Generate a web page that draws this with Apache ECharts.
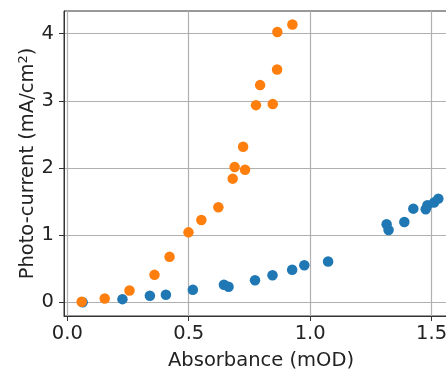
<!DOCTYPE html>
<html>
<head>
<meta charset="utf-8">
<script src="https://cdn.jsdelivr.net/npm/echarts@6/dist/echarts.min.js"></script>
<style>html,body{margin:0;padding:0;background:#fff}#c{width:446px;height:370px}</style>
</head>
<body>
<div id="c"></div>
<script>
const xTicks = [0.0, 0.5, 1.0, 1.5];
const yTicks = [0, 1, 2, 3, 4];
const blueX = [0.063, 0.227, 0.340, 0.406, 0.517, 0.645, 0.664, 0.773, 0.845, 0.926, 0.976, 1.074, 1.315, 1.323, 1.388, 1.425, 1.476, 1.483, 1.510, 1.528];
const blueY = [0.00, 0.045, 0.095, 0.11, 0.184, 0.259, 0.229, 0.327, 0.401, 0.482, 0.55, 0.605, 1.16, 1.076, 1.195, 1.393, 1.383, 1.443, 1.483, 1.542];
const orangeX = [0.059, 0.154, 0.256, 0.359, 0.421, 0.499, 0.552, 0.622, 0.681, 0.689, 0.732, 0.724, 0.777, 0.794, 0.846, 0.864, 0.865, 0.927];
const orangeY = [0.005, 0.055, 0.174, 0.407, 0.675, 1.04, 1.225, 1.413, 1.84, 2.013, 1.973, 2.315, 2.935, 3.233, 2.95, 3.465, 4.025, 4.135];

const zip = (a, b) => a.map((v, i) => [v, b[i]]);
const font = 'DejaVu Sans';
const fs = 19.5;
const chart = echarts.init(document.getElementById('c'), null, {renderer: 'canvas'});
chart.setOption({
  animation: false,
  backgroundColor: '#fff',
  grid: {left: 64, top: 11, bottom: 54, right: -12, show: true, borderColor: '#333', borderWidth: 1, outerBoundsMode: 'none', containLabel: false},
  xAxis: {
    type: 'value', min: -0.0137, max: 1.609,
    name: 'Absorbance (mOD)', nameLocation: 'middle', nameGap: 35, nameMoveOverlap: false,
    nameTextStyle: {fontFamily: font, fontSize: fs, color: '#222'},
    axisLine: {show: true, onZero: false, lineStyle: {color: '#333', width: 1}},
    axisTick: {show: true, length: 5, lineStyle: {color: '#333'}, customValues: xTicks},
    axisLabel: {fontFamily: font, fontSize: fs, color: '#222', margin: 8, customValues: xTicks, formatter: v => v.toFixed(1)},
    splitLine: {show: true, lineStyle: {color: '#b0b0b0', width: 1.2}}
  },
  yAxis: {
    type: 'value', min: -0.206, max: 4.337,
    name: 'Photo-current (mA/cm{s|2})', nameLocation: 'middle', nameGap: 26, nameMoveOverlap: false,
    nameTextStyle: {fontFamily: font, fontSize: fs, color: '#222', rich: {s: {fontFamily: font, fontSize: 13, verticalAlign: 'top', color: '#222', padding: [0,0,8,0]}}},
    axisLine: {show: true, onZero: false, lineStyle: {color: '#333', width: 1}},
    axisTick: {show: true, length: 5, lineStyle: {color: '#333'}, customValues: yTicks},
    axisLabel: {fontFamily: font, fontSize: fs, color: '#222', margin: 10, customValues: yTicks},
    splitLine: {show: true, lineStyle: {color: '#b0b0b0', width: 1.2}}
  },
  series: [
    {type: 'scatter', data: zip(blueX, blueY), symbolSize: 10.5, itemStyle: {color: '#1f77b4', opacity: 1}},
    {type: 'scatter', data: zip(orangeX, orangeY), symbolSize: 10.5, itemStyle: {color: '#ff7f0e', opacity: 1}}
  ]
});
</script>
</body>
</html>
